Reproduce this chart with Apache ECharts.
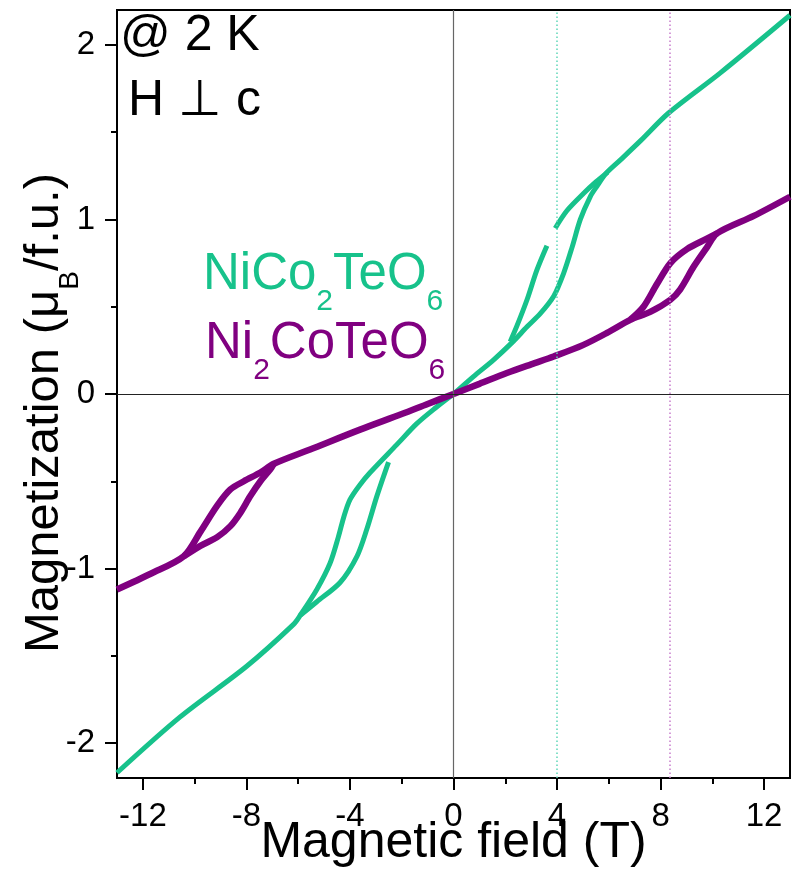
<!DOCTYPE html>
<html>
<head>
<meta charset="utf-8">
<script src="https://cdn.jsdelivr.net/npm/echarts@6/dist/echarts.min.js"></script>
<style>
  html, body { margin: 0; padding: 0; background: #fff; }
  #chart { width: 793px; height: 878px; }
</style>
</head>
<body>
<div id="chart"></div>
<script>
// Magnetization M(H) at 2 K, field perpendicular to c, for two compounds.
// Each branch is a list of [field (T), magnetization (muB/f.u.)] pairs, ordered by field.

// NiCo2TeO6
const nicoPosLower = [[0, 0], [0.77, 0.10], [1.55, 0.196], [2.3, 0.30], [2.84, 0.385], [3.35, 0.46],
  [3.87, 0.56], [4.25, 0.69], [4.58, 0.84], [4.9, 1.0], [5.28, 1.13], [5.54, 1.19], [5.9, 1.265],
  [6.44, 1.34], [7.22, 1.45], [8.31, 1.61], [10.31, 1.84], [13, 2.17]];
const nicoPosUpperA = [[2.19, 0.30], [2.45, 0.39], [2.84, 0.54], [3.22, 0.71], [3.61, 0.85]];
const nicoPosUpperB = [[3.93, 0.95], [4.38, 1.05], [5.03, 1.15], [5.5, 1.215], [5.95, 1.27]];
const nicoNegOuter = [[-13, -2.17], [-10.56, -1.85], [-7.99, -1.56], [-6.18, -1.32], [-5.93, -1.27],
  [-5.28, -1.12], [-4.77, -0.97], [-4.45, -0.82], [-4.23, -0.70], [-4.0, -0.605], [-3.64, -0.525],
  [-3.22, -0.45], [-2.19, -0.29], [-1.42, -0.17], [-0.7, -0.08], [0, 0]];
const nicoNegInner = [[-5.93, -1.27], [-5.28, -1.19], [-4.38, -1.08], [-3.73, -0.93], [-3.35, -0.775],
  [-2.96, -0.585], [-2.51, -0.39]];

// Ni2CoTeO6
const ni2PosLower = [[0, 0], [1.0, 0.058], [2.06, 0.12], [3.0, 0.17], [3.87, 0.215], [5.0, 0.28],
  [5.93, 0.35], [6.83, 0.425], [7.6, 0.47], [8.38, 0.54], [8.76, 0.60], [9.28, 0.73], [9.79, 0.84],
  [10.18, 0.92], [11.6, 1.02], [13, 1.13]];
const ni2PosUpper = [[6.83, 0.425], [7.34, 0.50], [7.86, 0.63], [8.38, 0.75], [9.02, 0.83],
  [9.79, 0.89], [10.18, 0.92]];
const ni2NegOuter = [[-13, -1.12], [-11.7, -1.03], [-10.42, -0.93], [-9.78, -0.79], [-9.13, -0.64],
  [-8.62, -0.547], [-8.1, -0.50], [-7.46, -0.45], [-6.94, -0.40], [-5.54, -0.318], [-3.61, -0.204],
  [-2.0, -0.115], [-1.0, -0.057], [0, 0]];
const ni2NegInner = [[-10.42, -0.93], [-9.78, -0.87], [-9.13, -0.82], [-8.62, -0.757], [-8.23, -0.68],
  [-7.85, -0.585], [-7.46, -0.50], [-7.07, -0.43], [-6.94, -0.40]];

// Transition fields marked by dotted guides
const transitionFields = [4.0, 8.35];

// Axis ticks and labels
const xMajorTicks = [-12, -8, -4, 0, 4, 8, 12];
const xMinorTicks = [-10, -6, -2, 2, 6, 10];
const yMajorTicks = [-2, -1, 0, 1, 2];
const yMinorTicks = [-1.5, -0.5, 0.5, 1.5];

const GREEN = '#17c28b';
const PURPLE = '#800080';
const FONT = '"Liberation Sans", Arial, sans-serif';

function branch(data, color, width, z) {
  return {
    type: 'line',
    data: data,
    symbol: 'none',
    showSymbol: false,
    smooth: 0.3,
    lineStyle: { color: color, width: width },
    z: z,
    silent: true,
    animation: false
  };
}

const chart = echarts.init(document.getElementById('chart'), null, { renderer: 'canvas' });

const sub = (size, pad) => ({ fontSize: size, fontFamily: FONT, lineHeight: size, padding: [pad, 0, 0, 0], verticalAlign: 'top' });

const option = {
  animation: false,
  backgroundColor: '#fff',
  grid: {
    left: 117, right: 3, top: 10, bottom: 100,
    containLabel: false, outerBoundsMode: 'none',
    show: true, borderColor: '#000', borderWidth: 2, backgroundColor: 'transparent'
  },
  xAxis: [
    {
      type: 'value', min: -13, max: 13, position: 'bottom',
      axisLine: { show: true, onZero: false, lineStyle: { color: '#000', width: 2 } },
      axisTick: { show: true, inside: false, length: 12, customValues: xMajorTicks, lineStyle: { color: '#000', width: 2 } },
      axisLabel: { show: true, customValues: xMajorTicks, margin: 22, color: '#000', fontSize: 33, fontFamily: FONT },
      splitLine: { show: false },
      name: 'Magnetic field (T)', nameLocation: 'middle', nameGap: 40, nameMoveOverlap: false,
      nameTextStyle: { fontSize: 50, fontFamily: FONT, color: '#000' }
    },
    {
      type: 'value', min: -13, max: 13, position: 'bottom',
      axisLine: { show: false, onZero: false },
      axisTick: { show: true, inside: false, length: 6, customValues: xMinorTicks, lineStyle: { color: '#000', width: 2 } },
      axisLabel: { show: false },
      splitLine: { show: false }
    }
  ],
  yAxis: [
    {
      type: 'value', min: -2.2, max: 2.2, position: 'left',
      axisLine: { show: true, onZero: false, lineStyle: { color: '#000', width: 2 } },
      axisTick: { show: true, inside: false, length: 12, customValues: yMajorTicks, lineStyle: { color: '#000', width: 2 } },
      axisLabel: { show: true, customValues: yMajorTicks, margin: 22, color: '#000', fontSize: 33, fontFamily: FONT },
      splitLine: { show: false },
      name: '{a|Magnetization (μ}{s|B}{a|/f.u.)}', nameLocation: 'middle', nameGap: 48, nameRotate: 90,
      nameMoveOverlap: false,
      nameTextStyle: {
        color: '#000',
        padding: [0, 38, 0, 0],
        rich: {
          a: { fontSize: 49, fontFamily: FONT, lineHeight: 49, verticalAlign: 'top', color: '#000' },
          s: { fontSize: 28, fontFamily: FONT, lineHeight: 28, padding: [36, 0, 0, 0], verticalAlign: 'top', color: '#000' }
        }
      }
    },
    {
      type: 'value', min: -2.2, max: 2.2, position: 'left',
      axisLine: { show: false, onZero: false },
      axisTick: { show: true, inside: false, length: 6, customValues: yMinorTicks, lineStyle: { color: '#000', width: 2 } },
      axisLabel: { show: false },
      splitLine: { show: false }
    }
  ],
  series: [
    // reference lines: zero axes and transition-field guides
    {
      type: 'line', data: [], z: 1, silent: true,
      markLine: {
        silent: true, symbol: ['none', 'none'], label: { show: false }, animation: false,
        data: [
          { xAxis: 0, lineStyle: { color: '#666', width: 1.2, type: 'solid' } },
          { yAxis: 0, lineStyle: { color: '#222', width: 1.2, type: 'solid' } },
          { xAxis: transitionFields[0], lineStyle: { color: '#5fd6b8', width: 1.5, type: [1.5, 2.5] } },
          { xAxis: transitionFields[1], lineStyle: { color: '#c77ccc', width: 1.5, type: [1.5, 2.5] } }
        ]
      }
    },
    branch(nicoPosLower, GREEN, 5, 3),
    branch(nicoPosUpperA, GREEN, 5, 3),
    branch(nicoPosUpperB, GREEN, 5, 3),
    branch(nicoNegOuter, GREEN, 5, 3),
    branch(nicoNegInner, GREEN, 5, 3),
    branch(ni2PosLower, PURPLE, 6.5, 4),
    branch(ni2PosUpper, PURPLE, 6.5, 4),
    branch(ni2NegOuter, PURPLE, 6.5, 4),
    branch(ni2NegInner, PURPLE, 6.5, 4)
  ],
  graphic: [
    { type: 'text', x: 120, y: 11, z: 10,
      style: { text: '@ 2 K', fontSize: 50, fontFamily: FONT, fill: '#000', verticalAlign: 'top' } },
    { type: 'text', x: 128, y: 76, z: 10,
      style: { text: 'H ⊥ c', fontSize: 50, fontFamily: FONT, fill: '#000', verticalAlign: 'top' } },
    { type: 'text', x: 203, y: 249, z: 10,
      style: {
        text: '{m|NiCo}{s|2}{m|TeO}{s|6}', fill: GREEN, verticalAlign: 'top',
        rich: {
          m: { fontSize: 51, fontFamily: FONT, lineHeight: 51, verticalAlign: 'top', fill: GREEN },
          s: sub(30, 38)
        }
      } },
    { type: 'text', x: 205, y: 318, z: 10,
      style: {
        text: '{m|Ni}{s|2}{m|CoTeO}{s|6}', fill: PURPLE, verticalAlign: 'top',
        rich: {
          m: { fontSize: 51, fontFamily: FONT, lineHeight: 51, verticalAlign: 'top', fill: PURPLE },
          s: sub(30, 38)
        }
      } }
  ]
};

chart.setOption(option);
</script>
</body>
</html>
